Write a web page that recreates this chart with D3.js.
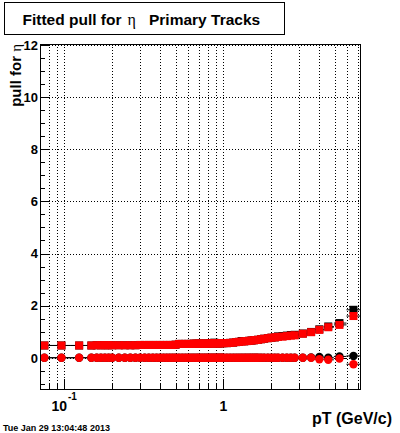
<!DOCTYPE html>
<html><head><meta charset="utf-8">
<script src="https://cdn.jsdelivr.net/npm/d3@7"></script>
<style>body{margin:0;background:#fff}svg{display:block}</style>
</head><body><svg id="c" width="400" height="433"></svg>
<script>
// ---- data ----
const pt = [0.075, 0.096, 0.124, 0.148,
  0.16, 0.17, 0.18, 0.19, 0.20, 0.22, 0.24, 0.26, 0.28, 0.30, 0.32, 0.34, 0.36, 0.38, 0.40, 0.42, 0.44, 0.46, 0.48, 0.50,
  0.525, 0.55, 0.575, 0.60, 0.625, 0.65, 0.675, 0.70, 0.725, 0.75, 0.775, 0.80, 0.825, 0.85, 0.875, 0.90, 0.925, 0.95, 0.975, 1.0,
  1.05, 1.1, 1.15, 1.2, 1.25, 1.3, 1.35, 1.4, 1.45, 1.5, 1.55, 1.6, 1.65,
  1.72, 1.8, 1.9, 2.0, 2.1, 2.2, 2.35, 2.5, 2.65, 2.8,
  3.15, 3.55, 4.0, 4.55, 5.35, 6.55];
const sigmaRed = [0.47, 0.47, 0.47, 0.47,
  0.48, 0.48, 0.48, 0.48, 0.48, 0.48, 0.48, 0.48, 0.48, 0.49, 0.49, 0.49, 0.49, 0.49, 0.49, 0.49, 0.49, 0.49, 0.49, 0.50,
  0.53, 0.53, 0.53, 0.53, 0.53, 0.54, 0.54, 0.54, 0.54, 0.54, 0.54, 0.54, 0.55, 0.55, 0.55, 0.55, 0.55, 0.55, 0.56, 0.56,
  0.56, 0.57, 0.58, 0.60, 0.61, 0.62, 0.63, 0.64, 0.65, 0.66, 0.67, 0.68, 0.69,
  0.71, 0.73, 0.75, 0.77, 0.78, 0.80, 0.81, 0.83, 0.85, 0.86,
  0.92, 0.98, 1.07, 1.17, 1.26, 1.60];
const sigmaBlack = [0.47, 0.47, 0.47, 0.47,
  0.48, 0.48, 0.48, 0.48, 0.48, 0.48, 0.48, 0.48, 0.48, 0.49, 0.49, 0.49, 0.49, 0.49, 0.49, 0.49, 0.49, 0.49, 0.49, 0.50,
  0.53, 0.53, 0.53, 0.53, 0.53, 0.54, 0.54, 0.54, 0.54, 0.54, 0.54, 0.54, 0.55, 0.55, 0.58, 0.55, 0.55, 0.55, 0.56, 0.56,
  0.56, 0.57, 0.58, 0.60, 0.61, 0.64, 0.63, 0.64, 0.65, 0.66, 0.67, 0.68, 0.69,
  0.71, 0.73, 0.75, 0.77, 0.78, 0.82, 0.83, 0.85, 0.87, 0.88,
  0.93, 0.99, 1.09, 1.20, 1.33, 1.84];
const meanRed = [0, 0, 0, 0,
  0, 0, 0, 0, 0, 0, 0, 0, 0, 0, 0, 0, 0, 0, 0, 0, 0, 0, 0, 0,
  0, 0, 0, 0, 0, 0, 0, 0, 0, 0, 0, 0, 0, 0, 0, 0, 0, 0, 0, 0,
  0, 0, 0, 0, 0, 0, 0, 0, 0, 0, 0, 0, 0,
  0, 0, 0, 0, 0, 0, 0, 0, 0, 0,
  0, 0, -0.06, -0.08, -0.03, -0.25];
const meanBlack = [0, 0, 0, 0,
  0, 0, 0, 0, 0, 0, 0, 0, 0, 0, 0, 0, 0, 0, 0, 0, 0, 0, 0, 0,
  0, 0, 0, 0, 0, 0, 0, 0, 0, 0, 0, 0, 0, 0, 0, 0, 0, 0, 0, 0,
  0, 0, 0, 0, 0, 0, 0, 0, 0, 0, 0, 0, 0,
  0, 0, 0, 0, 0, 0, 0, 0, 0, 0,
  0, 0.01, 0.03, 0.0, 0.05, 0.07];
const xMajorTicks = [0.1, 1];
const xMinorTicks = [0.08, 0.09, 0.2, 0.3, 0.4, 0.5, 0.6, 0.7, 0.8, 0.9, 2, 3, 4, 5, 6, 7];
const yMajorTicks = [0, 2, 4, 6, 8, 10, 12];
const yMinorTicks = [-1, -0.5, 0.5, 1, 1.5, 2.5, 3, 3.5, 4.5, 5, 5.5, 6.5, 7, 7.5, 8.5, 9, 9.5, 10.5, 11, 11.5];
const titleText = "Fitted pull for";
const titleText2 = "Primary Tracks";
const dateText = "Tue Jan 29 13:04:48 2013";

// ---- layout ----
const L = 40, R = 360, T = 44, B = 389;
const svg = d3.select('#c');
const x = d3.scaleLog().domain([0.0704, 7.2]).range([L, R]);
const y = d3.scaleLinear().domain([-1.2, 12.04]).range([B, T]);
const sans = "'Liberation Sans', Arial, Helvetica, sans-serif";
const serif = "'Liberation Serif', 'DejaVu Serif', serif";

svg.append('rect').attr('width', 400).attr('height', 433).attr('fill', '#fff');

svg.append('defs').append('clipPath').attr('id', 'clip')
  .append('rect').attr('x', L).attr('y', T).attr('width', R - L).attr('height', B - T);

// grid
const grid = svg.append('g').attr('stroke', '#000').attr('stroke-width', 1).attr('stroke-dasharray', '1,2');
xMajorTicks.concat(xMinorTicks).forEach(v => {
  const px = Math.round(x(v)) + 0.5;
  grid.append('line').attr('x1', px).attr('x2', px).attr('y1', T).attr('y2', B);
});
yMajorTicks.forEach(v => {
  const py = Math.round(y(v)) + 0.5;
  grid.append('line').attr('x1', L).attr('x2', R).attr('y1', py).attr('y2', py);
});

// ticks
const ticks = svg.append('g').attr('stroke', '#000').attr('stroke-width', 1);
yMajorTicks.forEach(v => { const py = Math.round(y(v)) + 0.5; ticks.append('line').attr('x1', L).attr('x2', L + 10).attr('y1', py).attr('y2', py); });
yMinorTicks.forEach(v => { const py = Math.round(y(v)) + 0.5; ticks.append('line').attr('x1', L).attr('x2', L + 5).attr('y1', py).attr('y2', py); });
xMajorTicks.forEach(v => { const px = Math.round(x(v)) + 0.5; ticks.append('line').attr('x1', px).attr('x2', px).attr('y1', B).attr('y2', B - 10); });
xMinorTicks.forEach(v => { const px = Math.round(x(v)) + 0.5; ticks.append('line').attr('x1', px).attr('x2', px).attr('y1', B).attr('y2', B - 5); });

// bin edges for horizontal error bars
const lo = pt.map((v, i) => i === 0 ? v / Math.sqrt(pt[1] / pt[0]) : Math.sqrt(pt[i - 1] * v));
const hi = pt.map((v, i) => i === pt.length - 1 ? v * Math.sqrt(v / pt[i - 1]) : Math.sqrt(pt[i + 1] * v));

const plot = svg.append('g').attr('clip-path', 'url(#clip)');
function series(vals, color, shape) {
  const g = plot.append('g');
  g.selectAll('line').data(pt).enter().append('line')
    .attr('x1', (d, i) => x(lo[i])).attr('x2', (d, i) => x(hi[i]))
    .attr('y1', (d, i) => y(vals[i])).attr('y2', (d, i) => y(vals[i]))
    .attr('stroke', '#000').attr('stroke-width', 1);
  if (shape === 'square') {
    g.selectAll('rect').data(pt).enter().append('rect')
      .attr('x', d => x(d) - 4).attr('y', (d, i) => y(vals[i]) - 4)
      .attr('width', 8).attr('height', 8).attr('fill', color);
  } else {
    g.selectAll('circle').data(pt).enter().append('circle')
      .attr('cx', d => x(d)).attr('cy', (d, i) => y(vals[i]))
      .attr('r', 4.2).attr('fill', color);
  }
}
series(sigmaBlack, '#000', 'square');
series(meanBlack, '#000', 'circle');
series(sigmaRed, '#ff0000', 'square');
series(meanRed, '#ff0000', 'circle');

// frame
svg.append('rect').attr('x', L + 0.5).attr('y', T + 0.5).attr('width', R - L).attr('height', B - T)
  .attr('fill', 'none').attr('stroke', '#000').attr('stroke-width', 1);

// y labels
svg.append('g').selectAll('text').data(yMajorTicks).enter().append('text')
  .attr('x', 38).attr('y', d => y(d) + 4.8).attr('text-anchor', 'end')
  .attr('font-family', sans).attr('font-weight', 'bold').attr('font-size', 13).text(d => d);

// x labels
const xl = svg.append('text').attr('x', 51.5).attr('y', 411)
  .attr('font-family', sans).attr('font-weight', 'bold').attr('font-size', 14);
xl.append('tspan').text('10');
svg.append('text').attr('x', 68).attr('y', 400).attr('font-family', sans).attr('font-weight', 'bold')
  .attr('font-size', 10).text('-1');
svg.append('text').attr('x', x(1)).attr('y', 411).attr('text-anchor', 'middle')
  .attr('font-family', sans).attr('font-weight', 'bold').attr('font-size', 14).text('1');

// axis titles
svg.append('text').attr('x', 392).attr('y', 424).attr('text-anchor', 'end')
  .attr('font-family', sans).attr('font-weight', 'bold').attr('font-size', 16).text('pT (GeV/c)');
const yt = svg.append('text').attr('transform', 'translate(21,44) rotate(-90)').attr('text-anchor', 'end')
  .attr('font-family', sans).attr('font-weight', 'bold').attr('font-size', 15);
yt.append('tspan').text('pull for ');
yt.append('tspan').attr('font-family', serif).attr('font-weight', 'normal').text('η');

// title box
svg.append('rect').attr('x', 4.5).attr('y', 2.5).attr('width', 280).attr('height', 32)
  .attr('fill', '#fff').attr('stroke', '#000').attr('stroke-width', 1);
svg.append('text').attr('x', 22.5).attr('y', 24.5).attr('font-family', sans).attr('font-weight', 'bold')
  .attr('font-size', 15.5).text(titleText);
svg.append('text').attr('x', 127.5).attr('y', 24.5).attr('font-family', serif)
  .attr('font-size', 16).text('η');
svg.append('text').attr('x', 149).attr('y', 24.5).attr('font-family', sans).attr('font-weight', 'bold')
  .attr('font-size', 15.5).text(titleText2);

// date
svg.append('text').attr('x', 3).attr('y', 431).attr('font-family', sans).attr('font-weight', 'bold')
  .attr('font-size', 9).text(dateText);
</script></body></html>
